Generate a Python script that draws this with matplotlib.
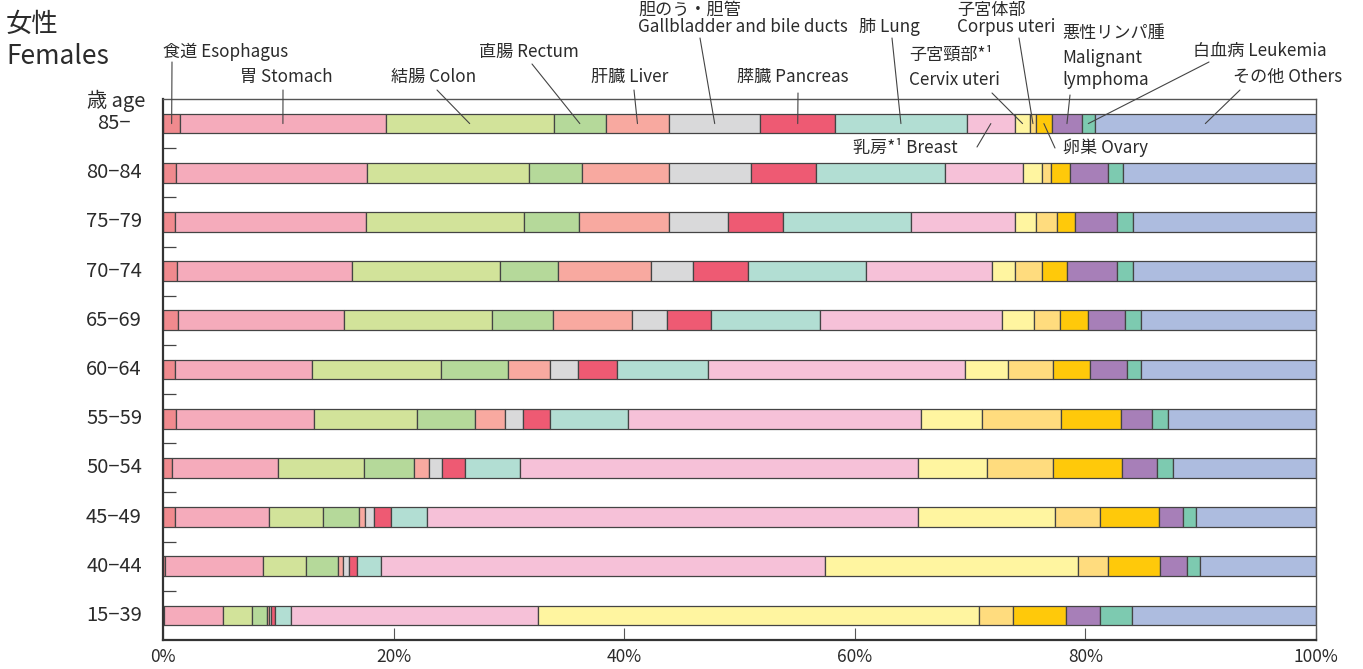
import numpy as np
import matplotlib
matplotlib.use('Agg')
import matplotlib.pyplot as plt

plt.rcParams['font.family'] = ['Noto Sans CJK JP', 'DejaVu Sans']

ages = ['85−', '80−84', '75−79', '70−74', '65−69', '60−64',
        '55−59', '50−54', '45−49', '40−44', '15−39']

sites = ['Esophagus', 'Stomach', 'Colon', 'Rectum', 'Liver', 'Gallbladder',
         'Pancreas', 'Lung', 'Breast', 'Cervix uteri', 'Corpus uteri', 'Ovary',
         'Malignant lymphoma', 'Leukemia', 'Others']

colors = ['#f08a8e', '#f5abbb', '#d2e39a', '#b5d99a', '#f8a9a0', '#d9d9da',
          '#ee5a73', '#b2ded3', '#f6c1d8', '#fff5a0', '#ffdc7e', '#ffc90a',
          '#a77fb8', '#7dcab0', '#adbcdf']

# share (%) of each site, one list per age group (rows top to bottom)
r85 = [1.5, 17.8, 14.6, 4.5, 5.5, 7.9, 6.5, 11.4, 4.2, 1.3, 0.5, 1.4, 2.6, 1.1, 19.2]
r80 = [1.1, 16.6, 14.0, 4.6, 7.6, 7.1, 5.6, 11.2, 6.8, 1.6, 0.8, 1.7, 3.3, 1.3, 16.7]
r75 = [1.0, 16.6, 13.7, 4.8, 7.8, 5.1, 4.8, 11.1, 9.0, 1.8, 1.8, 1.6, 3.6, 1.4, 15.9]
r70 = [1.2, 15.2, 12.8, 5.1, 8.0, 3.7, 4.7, 10.3, 10.9, 2.0, 2.3, 2.2, 4.3, 1.4, 15.9]
r65 = [1.3, 14.4, 12.8, 5.3, 6.9, 3.0, 3.8, 9.5, 15.8, 2.7, 2.3, 2.4, 3.2, 1.4, 15.2]
r60 = [1.0, 11.9, 11.2, 5.8, 3.7, 2.4, 3.4, 7.9, 22.3, 3.7, 3.9, 3.2, 3.2, 1.2, 15.2]
r55 = [1.1, 12.0, 8.9, 5.1, 2.6, 1.5, 2.4, 6.7, 25.4, 5.3, 6.9, 5.2, 2.7, 1.4, 12.8]
r50 = [0.8, 9.2, 7.4, 4.4, 1.3, 1.1, 2.0, 4.8, 34.5, 6.0, 5.7, 6.0, 3.0, 1.4, 12.4]
r45 = [1.0, 8.2, 4.7, 3.1, 0.5, 0.8, 1.5, 3.1, 42.6, 11.9, 3.9, 5.1, 2.1, 1.1, 10.4]
r40 = [0.2, 8.5, 3.7, 2.8, 0.4, 0.5, 0.7, 2.1, 38.5, 22.0, 2.6, 4.5, 2.3, 1.1, 10.1]
r15 = [0.1, 5.1, 2.5, 1.35, 0.15, 0.2, 0.3, 1.4, 21.4, 38.3, 2.9, 4.6, 3.0, 2.7, 16.0]

rows = np.array([r85, r80, r75, r70, r65, r60, r55, r50, r45, r40, r15])
rows = rows / rows.sum(axis=1, keepdims=True) * 100

xticks = [0, 20, 40, 60, 80, 100]
xticklabels = ['0%', '20%', '40%', '60%', '80%', '100%']

# callout labels: (text lines, left x px, centre y px of each line, line start px)
callouts = [
    (['食道 Esophagus'], 163, [52], (172, 62)),
    (['胃 Stomach'], 240, [77], (283, 90)),
    (['結腸 Colon'], 391, [77], (437, 90)),
    (['直腸 Rectum'], 479, [52], (532, 64)),
    (['肝臓 Liver'], 591, [77], (634, 90)),
    (['胆のう・胆管', 'Gallbladder and bile ducts'], 638, [10, 27], (700, 38)),
    (['膵臓 Pancreas'], 737, [77], (798, 93)),
    (['肺 Lung'], 859, [27], (892, 38)),
    (['乳房*¹ Breast'], 853, [148], (977, 147)),
    (['子宮頸部*¹', 'Cervix uteri'], 909, [55, 80], (992, 93)),
    (['子宮体部', 'Corpus uteri'], 957, [10, 27], (1019, 38)),
    (['卵巣 Ovary'], 1063, [148], (1055, 148)),
    (['悪性リンパ腫', 'Malignant', 'lymphoma'], 1062, [33, 58, 80], (1070, 95)),
    (['白血病 Leukemia'], 1193, [51], (1209, 62)),
    (['その他 Others'], 1233, [77], (1240, 90)),
]

W, H = 1363, 669
fig = plt.figure(figsize=(W / 100, H / 100), dpi=100)
ax = fig.add_axes([163 / W, 1 - 640 / H, (1316 - 163) / W, (640 - 99) / H])

txt = '#2b2b2b'
ypos = np.arange(len(ages))
left = np.zeros(len(ages))
for j in range(len(sites)):
    ax.barh(ypos, rows[:, j], left=left, height=0.4, color=colors[j],
            edgecolor='#444444', linewidth=0.9)
    left += rows[:, j]

ax.set_xlim(0, 100)
ax.set_ylim(len(ages) - 0.5, -0.5)

ax.set_xticks(xticks)
ax.set_xticklabels(xticklabels, fontsize=12.5, color=txt)
ax.tick_params(axis='x', direction='in', length=9, width=0.8, color='#555555', pad=6)
ax.set_yticks(ypos[:-1] + 0.5)
ax.set_yticklabels([])
ax.tick_params(axis='y', direction='in', length=9, width=0.9, color='#444444')

for s in ['left', 'bottom']:
    ax.spines[s].set_linewidth(1.6)
    ax.spines[s].set_color('#333333')
for s in ['top', 'right']:
    ax.spines[s].set_linewidth(1.0)
    ax.spines[s].set_color('#555555')

ytr = ax.get_yaxis_transform()
for i, a in enumerate(ages):
    ax.text(-0.0425, i, a, transform=ytr, ha='center', va='center',
            fontsize=14.5, color=txt)
fig.text(116 / W, 1 - 101 / H, '歳 age', ha='center', va='center',
         fontsize=14.5, color=txt)

fig.text(6 / W, 1 - 24 / H, '女性', ha='left', va='center', fontsize=19, color=txt)
fig.text(6 / W, 1 - 57 / H, 'Females', ha='left', va='center', fontsize=19, color=txt)

centers = np.cumsum(rows[0]) - rows[0] / 2
for j, (lines, lx, lys, (sx, sy)) in enumerate(callouts):
    for t, ly in zip(lines, lys):
        fig.text(lx / W, 1 - ly / H, t, ha='left', va='center',
                 fontsize=12.3, color=txt)
    ax.annotate('', xy=(centers[j], 0), xycoords='data',
                xytext=(sx, H - sy), textcoords='figure pixels',
                arrowprops=dict(arrowstyle='-', color='#444444', lw=0.8,
                                shrinkA=0, shrinkB=0))

fig.savefig('out.png', dpi=100)
